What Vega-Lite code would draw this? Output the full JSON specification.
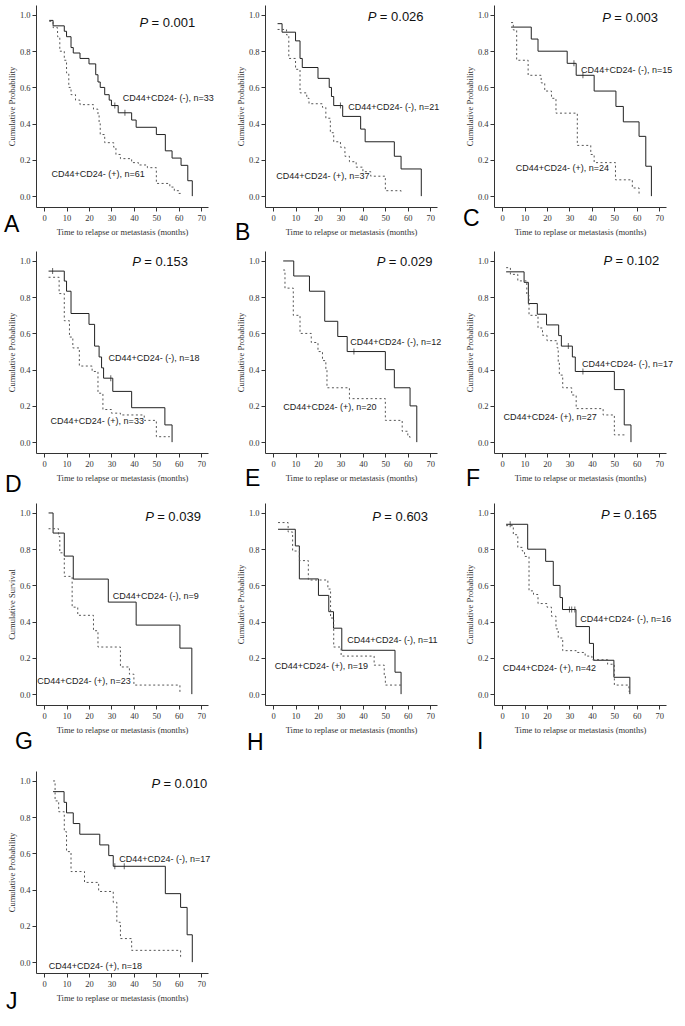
{
"$schema":"https://vega.github.io/schema/vega-lite/v6.json",
"background":"white",
"padding":{"left":4,"top":5,"right":5,"bottom":5},
"config":{"view":{"stroke":null},
"axis":{"grid":false,"domainColor":"#333","tickColor":"#333","tickSize":4,"labelFont":"Liberation Serif","labelFontSize":8.5,"labelColor":"#333","titleFont":"Liberation Serif","titleFontSize":8.5,"titleFontWeight":"normal","titleColor":"#333","labelPadding":2},
"axisX":{"titlePadding":6,"tickCount":8,"labelOverlap":false},"axisY":{"titlePadding":3,"tickCount":6},
"text":{"font":"Liberation Sans"}},
"datasets":{
"km":[
{"p":"A","g":"neg","t":2.3,"s":0.97},{"p":"A","g":"neg","t":4,"s":0.94},{"p":"A","g":"neg","t":9,"s":0.91},{"p":"A","g":"neg","t":10,"s":0.88},{"p":"A","g":"neg","t":12,"s":0.82},{"p":"A","g":"neg","t":13,"s":0.79},{"p":"A","g":"neg","t":16,"s":0.76},{"p":"A","g":"neg","t":20,"s":0.73},{"p":"A","g":"neg","t":23,"s":0.67},{"p":"A","g":"neg","t":24,"s":0.63},{"p":"A","g":"neg","t":25,"s":0.60},{"p":"A","g":"neg","t":27,"s":0.56},{"p":"A","g":"neg","t":29,"s":0.53},{"p":"A","g":"neg","t":30,"s":0.50},{"p":"A","g":"neg","t":33,"s":0.46},{"p":"A","g":"neg","t":39,"s":0.42},{"p":"A","g":"neg","t":41,"s":0.38},{"p":"A","g":"neg","t":50,"s":0.34},{"p":"A","g":"neg","t":54,"s":0.25},{"p":"A","g":"neg","t":57,"s":0.21},{"p":"A","g":"neg","t":61,"s":0.17},{"p":"A","g":"neg","t":64,"s":0.085},{"p":"A","g":"neg","t":66,"s":0},
{"p":"A","g":"pos","t":2.3,"s":0.965},{"p":"A","g":"pos","t":4,"s":0.93},{"p":"A","g":"pos","t":6,"s":0.88},{"p":"A","g":"pos","t":7,"s":0.80},{"p":"A","g":"pos","t":9,"s":0.75},{"p":"A","g":"pos","t":10,"s":0.68},{"p":"A","g":"pos","t":11,"s":0.60},{"p":"A","g":"pos","t":12,"s":0.56},{"p":"A","g":"pos","t":14,"s":0.53},{"p":"A","g":"pos","t":16,"s":0.505},{"p":"A","g":"pos","t":22,"s":0.48},{"p":"A","g":"pos","t":24,"s":0.45},{"p":"A","g":"pos","t":24.5,"s":0.40},{"p":"A","g":"pos","t":25,"s":0.34},{"p":"A","g":"pos","t":27,"s":0.295},{"p":"A","g":"pos","t":31,"s":0.27},{"p":"A","g":"pos","t":32,"s":0.23},{"p":"A","g":"pos","t":34,"s":0.207},{"p":"A","g":"pos","t":39,"s":0.185},{"p":"A","g":"pos","t":42,"s":0.172},{"p":"A","g":"pos","t":46,"s":0.157},{"p":"A","g":"pos","t":50,"s":0.07},{"p":"A","g":"pos","t":56,"s":0.05},{"p":"A","g":"pos","t":58,"s":0.03},{"p":"A","g":"pos","t":60,"s":0.015},{"p":"A","g":"pos","t":61,"s":0.015},
{"p":"B","g":"neg","t":2,"s":0.952},{"p":"B","g":"neg","t":4,"s":0.905},{"p":"B","g":"neg","t":10,"s":0.857},{"p":"B","g":"neg","t":12,"s":0.76},{"p":"B","g":"neg","t":13,"s":0.71},{"p":"B","g":"neg","t":20,"s":0.65},{"p":"B","g":"neg","t":25,"s":0.60},{"p":"B","g":"neg","t":26,"s":0.55},{"p":"B","g":"neg","t":27,"s":0.50},{"p":"B","g":"neg","t":31,"s":0.44},{"p":"B","g":"neg","t":39,"s":0.37},{"p":"B","g":"neg","t":41,"s":0.30},{"p":"B","g":"neg","t":54,"s":0.22},{"p":"B","g":"neg","t":57,"s":0.15},{"p":"B","g":"neg","t":66,"s":0},
{"p":"B","g":"pos","t":2,"s":0.92},{"p":"B","g":"pos","t":6,"s":0.89},{"p":"B","g":"pos","t":7,"s":0.76},{"p":"B","g":"pos","t":10,"s":0.70},{"p":"B","g":"pos","t":12,"s":0.57},{"p":"B","g":"pos","t":15,"s":0.54},{"p":"B","g":"pos","t":16,"s":0.51},{"p":"B","g":"pos","t":22,"s":0.49},{"p":"B","g":"pos","t":23.5,"s":0.43},{"p":"B","g":"pos","t":25.5,"s":0.35},{"p":"B","g":"pos","t":27,"s":0.30},{"p":"B","g":"pos","t":30,"s":0.27},{"p":"B","g":"pos","t":32,"s":0.22},{"p":"B","g":"pos","t":34,"s":0.19},{"p":"B","g":"pos","t":37,"s":0.16},{"p":"B","g":"pos","t":40,"s":0.135},{"p":"B","g":"pos","t":43.5,"s":0.11},{"p":"B","g":"pos","t":50,"s":0.03},{"p":"B","g":"pos","t":57,"s":0.015},
{"p":"C","g":"neg","t":4,"s":0.933},{"p":"C","g":"neg","t":13,"s":0.867},{"p":"C","g":"neg","t":16,"s":0.80},{"p":"C","g":"neg","t":29,"s":0.733},{"p":"C","g":"neg","t":33,"s":0.667},{"p":"C","g":"neg","t":41,"s":0.58},{"p":"C","g":"neg","t":50.7,"s":0.495},{"p":"C","g":"neg","t":54,"s":0.41},{"p":"C","g":"neg","t":61,"s":0.33},{"p":"C","g":"neg","t":64,"s":0.165},{"p":"C","g":"neg","t":66.5,"s":0},
{"p":"C","g":"pos","t":4,"s":0.958},{"p":"C","g":"pos","t":5,"s":0.917},{"p":"C","g":"pos","t":6.5,"s":0.75},{"p":"C","g":"pos","t":11.6,"s":0.667},{"p":"C","g":"pos","t":17.4,"s":0.625},{"p":"C","g":"pos","t":19,"s":0.58},{"p":"C","g":"pos","t":22,"s":0.54},{"p":"C","g":"pos","t":24,"s":0.458},{"p":"C","g":"pos","t":33.5,"s":0.28},{"p":"C","g":"pos","t":39.5,"s":0.23},{"p":"C","g":"pos","t":41,"s":0.185},{"p":"C","g":"pos","t":50.5,"s":0.09},{"p":"C","g":"pos","t":58,"s":0.045},{"p":"C","g":"pos","t":61,"s":0},
{"p":"D","g":"neg","t":2,"s":0.944},{"p":"D","g":"neg","t":9,"s":0.889},{"p":"D","g":"neg","t":10,"s":0.833},{"p":"D","g":"neg","t":12,"s":0.71},{"p":"D","g":"neg","t":20,"s":0.65},{"p":"D","g":"neg","t":22.5,"s":0.53},{"p":"D","g":"neg","t":24.5,"s":0.47},{"p":"D","g":"neg","t":25.6,"s":0.41},{"p":"D","g":"neg","t":26.5,"s":0.353},{"p":"D","g":"neg","t":30.6,"s":0.28},{"p":"D","g":"neg","t":39,"s":0.19},{"p":"D","g":"neg","t":53.8,"s":0.095},{"p":"D","g":"neg","t":57,"s":0},
{"p":"D","g":"pos","t":2,"s":0.91},{"p":"D","g":"pos","t":6.7,"s":0.82},{"p":"D","g":"pos","t":9,"s":0.67},{"p":"D","g":"pos","t":11.3,"s":0.58},{"p":"D","g":"pos","t":12.8,"s":0.52},{"p":"D","g":"pos","t":15.7,"s":0.42},{"p":"D","g":"pos","t":21.4,"s":0.39},{"p":"D","g":"pos","t":24,"s":0.27},{"p":"D","g":"pos","t":26.2,"s":0.18},{"p":"D","g":"pos","t":30,"s":0.16},{"p":"D","g":"pos","t":34,"s":0.15},{"p":"D","g":"pos","t":44.6,"s":0.12},{"p":"D","g":"pos","t":50,"s":0.03},{"p":"D","g":"pos","t":56,"s":0.03},
{"p":"E","g":"neg","t":4.5,"s":1},{"p":"E","g":"neg","t":9.2,"s":0.917},{"p":"E","g":"neg","t":16.2,"s":0.833},{"p":"E","g":"neg","t":23,"s":0.667},{"p":"E","g":"neg","t":28.8,"s":0.583},{"p":"E","g":"neg","t":33,"s":0.5},{"p":"E","g":"neg","t":50,"s":0.4},{"p":"E","g":"neg","t":54,"s":0.3},{"p":"E","g":"neg","t":61,"s":0.2},{"p":"E","g":"neg","t":64,"s":0},
{"p":"E","g":"pos","t":4.5,"s":0.95},{"p":"E","g":"pos","t":5.3,"s":0.85},{"p":"E","g":"pos","t":9,"s":0.7},{"p":"E","g":"pos","t":12,"s":0.6},{"p":"E","g":"pos","t":17,"s":0.55},{"p":"E","g":"pos","t":20,"s":0.5},{"p":"E","g":"pos","t":22,"s":0.45},{"p":"E","g":"pos","t":23.5,"s":0.4},{"p":"E","g":"pos","t":24,"s":0.3},{"p":"E","g":"pos","t":34,"s":0.24},{"p":"E","g":"pos","t":50,"s":0.12},{"p":"E","g":"pos","t":57.5,"s":0.06},{"p":"E","g":"pos","t":60,"s":0.03},{"p":"E","g":"pos","t":61,"s":0.02},
{"p":"F","g":"neg","t":1.8,"s":0.94},{"p":"F","g":"neg","t":9.8,"s":0.882},{"p":"F","g":"neg","t":11.7,"s":0.765},{"p":"F","g":"neg","t":15.7,"s":0.706},{"p":"F","g":"neg","t":19.8,"s":0.647},{"p":"F","g":"neg","t":25.2,"s":0.588},{"p":"F","g":"neg","t":26.4,"s":0.53},{"p":"F","g":"neg","t":31.3,"s":0.47},{"p":"F","g":"neg","t":32.6,"s":0.39},{"p":"F","g":"neg","t":50,"s":0.29},{"p":"F","g":"neg","t":54.4,"s":0.095},{"p":"F","g":"neg","t":57.4,"s":0},
{"p":"F","g":"pos","t":1.8,"s":0.963},{"p":"F","g":"pos","t":3.7,"s":0.926},{"p":"F","g":"pos","t":7,"s":0.89},{"p":"F","g":"pos","t":11,"s":0.81},{"p":"F","g":"pos","t":12,"s":0.70},{"p":"F","g":"pos","t":16,"s":0.63},{"p":"F","g":"pos","t":18,"s":0.59},{"p":"F","g":"pos","t":20,"s":0.56},{"p":"F","g":"pos","t":24.5,"s":0.52},{"p":"F","g":"pos","t":25,"s":0.44},{"p":"F","g":"pos","t":25.5,"s":0.37},{"p":"F","g":"pos","t":27,"s":0.30},{"p":"F","g":"pos","t":31,"s":0.26},{"p":"F","g":"pos","t":33,"s":0.185},{"p":"F","g":"pos","t":45,"s":0.15},{"p":"F","g":"pos","t":50,"s":0.04},{"p":"F","g":"pos","t":55,"s":0.04},
{"p":"G","g":"neg","t":2,"s":1},{"p":"G","g":"neg","t":4,"s":0.889},{"p":"G","g":"neg","t":9,"s":0.762},{"p":"G","g":"neg","t":13,"s":0.635},{"p":"G","g":"neg","t":28.6,"s":0.508},{"p":"G","g":"neg","t":41,"s":0.381},{"p":"G","g":"neg","t":60.5,"s":0.254},{"p":"G","g":"neg","t":65.8,"s":0},
{"p":"G","g":"pos","t":2,"s":0.913},{"p":"G","g":"pos","t":6.4,"s":0.87},{"p":"G","g":"pos","t":7,"s":0.78},{"p":"G","g":"pos","t":9,"s":0.65},{"p":"G","g":"pos","t":12.5,"s":0.48},{"p":"G","g":"pos","t":15,"s":0.435},{"p":"G","g":"pos","t":22,"s":0.35},{"p":"G","g":"pos","t":24,"s":0.26},{"p":"G","g":"pos","t":34,"s":0.15},{"p":"G","g":"pos","t":38,"s":0.11},{"p":"G","g":"pos","t":40,"s":0.05},{"p":"G","g":"pos","t":60.5,"s":0},
{"p":"H","g":"neg","t":2.2,"s":0.91},{"p":"H","g":"neg","t":9.9,"s":0.818},{"p":"H","g":"neg","t":11.7,"s":0.636},{"p":"H","g":"neg","t":20.2,"s":0.545},{"p":"H","g":"neg","t":24.8,"s":0.455},{"p":"H","g":"neg","t":26.9,"s":0.364},{"p":"H","g":"neg","t":30.6,"s":0.242},{"p":"H","g":"neg","t":54.3,"s":0.121},{"p":"H","g":"neg","t":57,"s":0},
{"p":"H","g":"pos","t":2.2,"s":0.947},{"p":"H","g":"pos","t":6.7,"s":0.895},{"p":"H","g":"pos","t":8.7,"s":0.79},{"p":"H","g":"pos","t":11.7,"s":0.737},{"p":"H","g":"pos","t":15.7,"s":0.63},{"p":"H","g":"pos","t":24.4,"s":0.58},{"p":"H","g":"pos","t":25.6,"s":0.42},{"p":"H","g":"pos","t":27,"s":0.26},{"p":"H","g":"pos","t":30.3,"s":0.21},{"p":"H","g":"pos","t":45,"s":0.16},{"p":"H","g":"pos","t":49.5,"s":0.105},{"p":"H","g":"pos","t":50,"s":0.05},{"p":"H","g":"pos","t":57,"s":0.05},
{"p":"I","g":"neg","t":1.8,"s":0.9375},{"p":"I","g":"neg","t":11.4,"s":0.8},{"p":"I","g":"neg","t":19.4,"s":0.733},{"p":"I","g":"neg","t":22.8,"s":0.6},{"p":"I","g":"neg","t":25.8,"s":0.533},{"p":"I","g":"neg","t":26.9,"s":0.467},{"p":"I","g":"neg","t":32.9,"s":0.373},{"p":"I","g":"neg","t":38.9,"s":0.28},{"p":"I","g":"neg","t":40.7,"s":0.187},{"p":"I","g":"neg","t":49.8,"s":0.093},{"p":"I","g":"neg","t":56.9,"s":0},
{"p":"I","g":"pos","t":1.8,"s":0.93},{"p":"I","g":"pos","t":5,"s":0.88},{"p":"I","g":"pos","t":7,"s":0.81},{"p":"I","g":"pos","t":9,"s":0.79},{"p":"I","g":"pos","t":10,"s":0.76},{"p":"I","g":"pos","t":12,"s":0.57},{"p":"I","g":"pos","t":14,"s":0.55},{"p":"I","g":"pos","t":16,"s":0.5},{"p":"I","g":"pos","t":20,"s":0.48},{"p":"I","g":"pos","t":22,"s":0.43},{"p":"I","g":"pos","t":24,"s":0.36},{"p":"I","g":"pos","t":25,"s":0.31},{"p":"I","g":"pos","t":27,"s":0.24},{"p":"I","g":"pos","t":33,"s":0.23},{"p":"I","g":"pos","t":37,"s":0.21},{"p":"I","g":"pos","t":40,"s":0.19},{"p":"I","g":"pos","t":47,"s":0.165},{"p":"I","g":"pos","t":50,"s":0.05},{"p":"I","g":"pos","t":56.5,"s":0.015},{"p":"I","g":"pos","t":57,"s":0.015},
{"p":"J","g":"neg","t":4,"s":0.941},{"p":"J","g":"neg","t":8.9,"s":0.882},{"p":"J","g":"neg","t":10,"s":0.824},{"p":"J","g":"neg","t":13,"s":0.765},{"p":"J","g":"neg","t":15.9,"s":0.706},{"p":"J","g":"neg","t":24.8,"s":0.647},{"p":"J","g":"neg","t":28.8,"s":0.588},{"p":"J","g":"neg","t":30.8,"s":0.529},{"p":"J","g":"neg","t":54,"s":0.378},{"p":"J","g":"neg","t":60.8,"s":0.302},{"p":"J","g":"neg","t":63.7,"s":0.151},{"p":"J","g":"neg","t":66,"s":0},
{"p":"J","g":"pos","t":4,"s":1},{"p":"J","g":"pos","t":4.9,"s":0.89},{"p":"J","g":"pos","t":6.5,"s":0.83},{"p":"J","g":"pos","t":9,"s":0.72},{"p":"J","g":"pos","t":10,"s":0.61},{"p":"J","g":"pos","t":12,"s":0.5},{"p":"J","g":"pos","t":18,"s":0.44},{"p":"J","g":"pos","t":24.3,"s":0.39},{"p":"J","g":"pos","t":30.8,"s":0.33},{"p":"J","g":"pos","t":32.4,"s":0.22},{"p":"J","g":"pos","t":34,"s":0.13},{"p":"J","g":"pos","t":39,"s":0.065},{"p":"J","g":"pos","t":60.8,"s":0.03},{"p":"J","g":"pos","t":61,"s":0.03}
],
"cens":[
{"p":"A","t":31.5,"s":0.5},{"p":"A","t":36,"s":0.46},{"p":"B","t":30,"s":0.5},{"p":"C","t":32,"s":0.733},{"p":"C","t":36,"s":0.667},{"p":"D","t":3.8,"s":0.944},{"p":"D","t":29.7,"s":0.353},{"p":"E","t":36,"s":0.5},{"p":"F","t":29.5,"s":0.53},{"p":"F","t":36,"s":0.39},{"p":"I","t":3.6,"s":0.9375},{"p":"I","t":30,"s":0.467},{"p":"I","t":31,"s":0.467},{"p":"I","t":32.4,"s":0.467},{"p":"J","t":31.5,"s":0.529},{"p":"J","t":35.7,"s":0.529}
]},
"vconcat":[
{"vconcat":[
{"hconcat":[
{"width":172,"height":202,
"layer":[
{"data":{"name":"km"},"transform":[{"filter":"datum.p==='A' && datum.g==='neg'"}],"mark":{"type":"line","interpolate":"step-after","stroke":"#222","strokeWidth":1},"encoding":{"x":{"field":"t","type":"quantitative","scale":{"domain":[-3.6,73],"nice":false,"zero":false},"axis":{"values":[0,10,20,30,40,50,60,70],"title":"Time to relapse or metastasis (months)"}},"y":{"field":"s","type":"quantitative","scale":{"domain":[-0.06,1.055],"nice":false,"zero":false},"axis":{"values":[0,0.2,0.4,0.6,0.8,1],"format":".1f","title":"Cumulative Probability"}}}},
{"data":{"name":"km"},"transform":[{"filter":"datum.p==='A' && datum.g==='pos'"}],"mark":{"type":"line","interpolate":"step-after","stroke":"#555","strokeWidth":1,"strokeDash":[2,2.5]},"encoding":{"x":{"field":"t","type":"quantitative","scale":{"domain":[-3.6,73],"nice":false,"zero":false}},"y":{"field":"s","type":"quantitative","scale":{"domain":[-0.06,1.055],"nice":false,"zero":false}}}},
{"data":{"name":"cens"},"transform":[{"filter":"datum.p==='A'"}],"mark":{"type":"tick","orient":"vertical","size":6,"thickness":1,"color":"#222"},"encoding":{"x":{"field":"t","type":"quantitative","scale":{"domain":[-3.6,73],"nice":false,"zero":false}},"y":{"field":"s","type":"quantitative","scale":{"domain":[-0.06,1.055],"nice":false,"zero":false}}}},
{"data":{"values":[{}]},"mark":{"type":"text","text":"P","fontStyle":"italic","fontSize":13,"align":"left","baseline":"middle","color":"#111"},"encoding":{"x":{"datum":42.5,"type":"quantitative"},"y":{"datum":0.954,"type":"quantitative"}}},
{"data":{"values":[{}]},"mark":{"type":"text","text":"= 0.001","fontSize":13,"align":"left","baseline":"middle","dx":12,"color":"#111"},"encoding":{"x":{"datum":42.5,"type":"quantitative"},"y":{"datum":0.954,"type":"quantitative"}}},
{"data":{"values":[{}]},"mark":{"type":"text","text":"CD44+CD24- (-), n=33","fontSize":9,"align":"left","baseline":"middle","color":"#222"},"encoding":{"x":{"datum":35,"type":"quantitative"},"y":{"datum":0.542,"type":"quantitative"}}},
{"data":{"values":[{}]},"mark":{"type":"text","text":"CD44+CD24- (+), n=61","fontSize":9,"align":"left","baseline":"middle","color":"#222"},"encoding":{"x":{"datum":3.3,"type":"quantitative"},"y":{"datum":0.12,"type":"quantitative"}}},
{"data":{"values":[{}]},"mark":{"type":"text","text":"A","fontSize":23,"align":"left","baseline":"alphabetic","color":"#000"},"encoding":{"x":{"datum":-17.85,"type":"quantitative"},"y":{"datum":-0.198,"type":"quantitative"}}}
]},
{"width":172,"height":202,
"layer":[
{"data":{"name":"km"},"transform":[{"filter":"datum.p==='B' && datum.g==='neg'"}],"mark":{"type":"line","interpolate":"step-after","stroke":"#222","strokeWidth":1},"encoding":{"x":{"field":"t","type":"quantitative","scale":{"domain":[-3.6,73],"nice":false,"zero":false},"axis":{"values":[0,10,20,30,40,50,60,70],"title":"Time to relapse or metastasis (months)"}},"y":{"field":"s","type":"quantitative","scale":{"domain":[-0.06,1.055],"nice":false,"zero":false},"axis":{"values":[0,0.2,0.4,0.6,0.8,1],"format":".1f","title":"Cumulative Probability"}}}},
{"data":{"name":"km"},"transform":[{"filter":"datum.p==='B' && datum.g==='pos'"}],"mark":{"type":"line","interpolate":"step-after","stroke":"#555","strokeWidth":1,"strokeDash":[2,2.5]},"encoding":{"x":{"field":"t","type":"quantitative","scale":{"domain":[-3.6,73],"nice":false,"zero":false}},"y":{"field":"s","type":"quantitative","scale":{"domain":[-0.06,1.055],"nice":false,"zero":false}}}},
{"data":{"name":"cens"},"transform":[{"filter":"datum.p==='B'"}],"mark":{"type":"tick","orient":"vertical","size":6,"thickness":1,"color":"#222"},"encoding":{"x":{"field":"t","type":"quantitative","scale":{"domain":[-3.6,73],"nice":false,"zero":false}},"y":{"field":"s","type":"quantitative","scale":{"domain":[-0.06,1.055],"nice":false,"zero":false}}}},
{"data":{"values":[{}]},"mark":{"type":"text","text":"P","fontStyle":"italic","fontSize":13,"align":"left","baseline":"middle","color":"#111"},"encoding":{"x":{"datum":42.2,"type":"quantitative"},"y":{"datum":0.987,"type":"quantitative"}}},
{"data":{"values":[{}]},"mark":{"type":"text","text":"= 0.026","fontSize":13,"align":"left","baseline":"middle","dx":12,"color":"#111"},"encoding":{"x":{"datum":42.2,"type":"quantitative"},"y":{"datum":0.987,"type":"quantitative"}}},
{"data":{"values":[{}]},"mark":{"type":"text","text":"CD44+CD24- (-), n=21","fontSize":9,"align":"left","baseline":"middle","color":"#222"},"encoding":{"x":{"datum":33.5,"type":"quantitative"},"y":{"datum":0.493,"type":"quantitative"}}},
{"data":{"values":[{}]},"mark":{"type":"text","text":"CD44+CD24- (+), n=37","fontSize":9,"align":"left","baseline":"middle","color":"#222"},"encoding":{"x":{"datum":1.4,"type":"quantitative"},"y":{"datum":0.109,"type":"quantitative"}}},
{"data":{"values":[{}]},"mark":{"type":"text","text":"B","fontSize":23,"align":"left","baseline":"alphabetic","color":"#000"},"encoding":{"x":{"datum":-16.96,"type":"quantitative"},"y":{"datum":-0.242,"type":"quantitative"}}}
]},
{"width":172,"height":202,
"layer":[
{"data":{"name":"km"},"transform":[{"filter":"datum.p==='C' && datum.g==='neg'"}],"mark":{"type":"line","interpolate":"step-after","stroke":"#222","strokeWidth":1},"encoding":{"x":{"field":"t","type":"quantitative","scale":{"domain":[-3.6,73],"nice":false,"zero":false},"axis":{"values":[0,10,20,30,40,50,60,70],"title":"Time to replase or metastasis (months)"}},"y":{"field":"s","type":"quantitative","scale":{"domain":[-0.06,1.055],"nice":false,"zero":false},"axis":{"values":[0,0.2,0.4,0.6,0.8,1],"format":".1f","title":"Cumulative Probability"}}}},
{"data":{"name":"km"},"transform":[{"filter":"datum.p==='C' && datum.g==='pos'"}],"mark":{"type":"line","interpolate":"step-after","stroke":"#555","strokeWidth":1,"strokeDash":[2,2.5]},"encoding":{"x":{"field":"t","type":"quantitative","scale":{"domain":[-3.6,73],"nice":false,"zero":false}},"y":{"field":"s","type":"quantitative","scale":{"domain":[-0.06,1.055],"nice":false,"zero":false}}}},
{"data":{"name":"cens"},"transform":[{"filter":"datum.p==='C'"}],"mark":{"type":"tick","orient":"vertical","size":6,"thickness":1,"color":"#222"},"encoding":{"x":{"field":"t","type":"quantitative","scale":{"domain":[-3.6,73],"nice":false,"zero":false}},"y":{"field":"s","type":"quantitative","scale":{"domain":[-0.06,1.055],"nice":false,"zero":false}}}},
{"data":{"values":[{}]},"mark":{"type":"text","text":"P","fontStyle":"italic","fontSize":13,"align":"left","baseline":"middle","color":"#111"},"encoding":{"x":{"datum":44.6,"type":"quantitative"},"y":{"datum":0.985,"type":"quantitative"}}},
{"data":{"values":[{}]},"mark":{"type":"text","text":"= 0.003","fontSize":13,"align":"left","baseline":"middle","dx":12,"color":"#111"},"encoding":{"x":{"datum":44.6,"type":"quantitative"},"y":{"datum":0.985,"type":"quantitative"}}},
{"data":{"values":[{}]},"mark":{"type":"text","text":"CD44+CD24- (-), n=15","fontSize":9,"align":"left","baseline":"middle","color":"#222"},"encoding":{"x":{"datum":35.2,"type":"quantitative"},"y":{"datum":0.698,"type":"quantitative"}}},
{"data":{"values":[{}]},"mark":{"type":"text","text":"CD44+CD24- (+), n=24","fontSize":9,"align":"left","baseline":"middle","color":"#222"},"encoding":{"x":{"datum":6.1,"type":"quantitative"},"y":{"datum":0.153,"type":"quantitative"}}},
{"data":{"values":[{}]},"mark":{"type":"text","text":"C","fontSize":23,"align":"left","baseline":"alphabetic","color":"#000"},"encoding":{"x":{"datum":-17.4,"type":"quantitative"},"y":{"datum":-0.165,"type":"quantitative"}}}
]}
],"spacing":57,"bounds":"flush"},
{"hconcat":[
{"width":172,"height":202,
"layer":[
{"data":{"name":"km"},"transform":[{"filter":"datum.p==='D' && datum.g==='neg'"}],"mark":{"type":"line","interpolate":"step-after","stroke":"#222","strokeWidth":1},"encoding":{"x":{"field":"t","type":"quantitative","scale":{"domain":[-3.6,73],"nice":false,"zero":false},"axis":{"values":[0,10,20,30,40,50,60,70],"title":"Time to relapse or metastasis (months)"}},"y":{"field":"s","type":"quantitative","scale":{"domain":[-0.06,1.055],"nice":false,"zero":false},"axis":{"values":[0,0.2,0.4,0.6,0.8,1],"format":".1f","title":"Cumulative Probability"}}}},
{"data":{"name":"km"},"transform":[{"filter":"datum.p==='D' && datum.g==='pos'"}],"mark":{"type":"line","interpolate":"step-after","stroke":"#555","strokeWidth":1,"strokeDash":[2,2.5]},"encoding":{"x":{"field":"t","type":"quantitative","scale":{"domain":[-3.6,73],"nice":false,"zero":false}},"y":{"field":"s","type":"quantitative","scale":{"domain":[-0.06,1.055],"nice":false,"zero":false}}}},
{"data":{"name":"cens"},"transform":[{"filter":"datum.p==='D'"}],"mark":{"type":"tick","orient":"vertical","size":6,"thickness":1,"color":"#222"},"encoding":{"x":{"field":"t","type":"quantitative","scale":{"domain":[-3.6,73],"nice":false,"zero":false}},"y":{"field":"s","type":"quantitative","scale":{"domain":[-0.06,1.055],"nice":false,"zero":false}}}},
{"data":{"values":[{}]},"mark":{"type":"text","text":"P","fontStyle":"italic","fontSize":13,"align":"left","baseline":"middle","color":"#111"},"encoding":{"x":{"datum":39.3,"type":"quantitative"},"y":{"datum":0.996,"type":"quantitative"}}},
{"data":{"values":[{}]},"mark":{"type":"text","text":"= 0.153","fontSize":13,"align":"left","baseline":"middle","dx":12,"color":"#111"},"encoding":{"x":{"datum":39.3,"type":"quantitative"},"y":{"datum":0.996,"type":"quantitative"}}},
{"data":{"values":[{}]},"mark":{"type":"text","text":"CD44+CD24- (-), n=18","fontSize":9,"align":"left","baseline":"middle","color":"#222"},"encoding":{"x":{"datum":28.7,"type":"quantitative"},"y":{"datum":0.465,"type":"quantitative"}}},
{"data":{"values":[{}]},"mark":{"type":"text","text":"CD44+CD24- (+), n=33","fontSize":9,"align":"left","baseline":"middle","color":"#222"},"encoding":{"x":{"datum":2.9,"type":"quantitative"},"y":{"datum":0.117,"type":"quantitative"}}},
{"data":{"values":[{}]},"mark":{"type":"text","text":"D","fontSize":23,"align":"left","baseline":"alphabetic","color":"#000"},"encoding":{"x":{"datum":-17.4,"type":"quantitative"},"y":{"datum":-0.275,"type":"quantitative"}}}
]},
{"width":172,"height":202,
"layer":[
{"data":{"name":"km"},"transform":[{"filter":"datum.p==='E' && datum.g==='neg'"}],"mark":{"type":"line","interpolate":"step-after","stroke":"#222","strokeWidth":1},"encoding":{"x":{"field":"t","type":"quantitative","scale":{"domain":[-3.6,73],"nice":false,"zero":false},"axis":{"values":[0,10,20,30,40,50,60,70],"title":"Time to replase or metastasis (months)"}},"y":{"field":"s","type":"quantitative","scale":{"domain":[-0.06,1.055],"nice":false,"zero":false},"axis":{"values":[0,0.2,0.4,0.6,0.8,1],"format":".1f","title":"Cumulative Probability"}}}},
{"data":{"name":"km"},"transform":[{"filter":"datum.p==='E' && datum.g==='pos'"}],"mark":{"type":"line","interpolate":"step-after","stroke":"#555","strokeWidth":1,"strokeDash":[2,2.5]},"encoding":{"x":{"field":"t","type":"quantitative","scale":{"domain":[-3.6,73],"nice":false,"zero":false}},"y":{"field":"s","type":"quantitative","scale":{"domain":[-0.06,1.055],"nice":false,"zero":false}}}},
{"data":{"name":"cens"},"transform":[{"filter":"datum.p==='E'"}],"mark":{"type":"tick","orient":"vertical","size":6,"thickness":1,"color":"#222"},"encoding":{"x":{"field":"t","type":"quantitative","scale":{"domain":[-3.6,73],"nice":false,"zero":false}},"y":{"field":"s","type":"quantitative","scale":{"domain":[-0.06,1.055],"nice":false,"zero":false}}}},
{"data":{"values":[{}]},"mark":{"type":"text","text":"P","fontStyle":"italic","fontSize":13,"align":"left","baseline":"middle","color":"#111"},"encoding":{"x":{"datum":46.2,"type":"quantitative"},"y":{"datum":0.995,"type":"quantitative"}}},
{"data":{"values":[{}]},"mark":{"type":"text","text":"= 0.029","fontSize":13,"align":"left","baseline":"middle","dx":12,"color":"#111"},"encoding":{"x":{"datum":46.2,"type":"quantitative"},"y":{"datum":0.995,"type":"quantitative"}}},
{"data":{"values":[{}]},"mark":{"type":"text","text":"CD44+CD24- (-), n=12","fontSize":9,"align":"left","baseline":"middle","color":"#222"},"encoding":{"x":{"datum":34.4,"type":"quantitative"},"y":{"datum":0.55,"type":"quantitative"}}},
{"data":{"values":[{}]},"mark":{"type":"text","text":"CD44+CD24- (+), n=20","fontSize":9,"align":"left","baseline":"middle","color":"#222"},"encoding":{"x":{"datum":4.5,"type":"quantitative"},"y":{"datum":0.193,"type":"quantitative"}}},
{"data":{"values":[{}]},"mark":{"type":"text","text":"E","fontSize":23,"align":"left","baseline":"alphabetic","color":"#000"},"encoding":{"x":{"datum":-12.5,"type":"quantitative"},"y":{"datum":-0.242,"type":"quantitative"}}}
]},
{"width":172,"height":202,
"layer":[
{"data":{"name":"km"},"transform":[{"filter":"datum.p==='F' && datum.g==='neg'"}],"mark":{"type":"line","interpolate":"step-after","stroke":"#222","strokeWidth":1},"encoding":{"x":{"field":"t","type":"quantitative","scale":{"domain":[-3.6,73],"nice":false,"zero":false},"axis":{"values":[0,10,20,30,40,50,60,70],"title":"Time to relapse or metastasis (months)"}},"y":{"field":"s","type":"quantitative","scale":{"domain":[-0.06,1.055],"nice":false,"zero":false},"axis":{"values":[0,0.2,0.4,0.6,0.8,1],"format":".1f","title":"Cumulative Probability"}}}},
{"data":{"name":"km"},"transform":[{"filter":"datum.p==='F' && datum.g==='pos'"}],"mark":{"type":"line","interpolate":"step-after","stroke":"#555","strokeWidth":1,"strokeDash":[2,2.5]},"encoding":{"x":{"field":"t","type":"quantitative","scale":{"domain":[-3.6,73],"nice":false,"zero":false}},"y":{"field":"s","type":"quantitative","scale":{"domain":[-0.06,1.055],"nice":false,"zero":false}}}},
{"data":{"name":"cens"},"transform":[{"filter":"datum.p==='F'"}],"mark":{"type":"tick","orient":"vertical","size":6,"thickness":1,"color":"#222"},"encoding":{"x":{"field":"t","type":"quantitative","scale":{"domain":[-3.6,73],"nice":false,"zero":false}},"y":{"field":"s","type":"quantitative","scale":{"domain":[-0.06,1.055],"nice":false,"zero":false}}}},
{"data":{"values":[{}]},"mark":{"type":"text","text":"P","fontStyle":"italic","fontSize":13,"align":"left","baseline":"middle","color":"#111"},"encoding":{"x":{"datum":45.2,"type":"quantitative"},"y":{"datum":0.998,"type":"quantitative"}}},
{"data":{"values":[{}]},"mark":{"type":"text","text":"= 0.102","fontSize":13,"align":"left","baseline":"middle","dx":12,"color":"#111"},"encoding":{"x":{"datum":45.2,"type":"quantitative"},"y":{"datum":0.998,"type":"quantitative"}}},
{"data":{"values":[{}]},"mark":{"type":"text","text":"CD44+CD24- (-), n=17","fontSize":9,"align":"left","baseline":"middle","color":"#222"},"encoding":{"x":{"datum":35.6,"type":"quantitative"},"y":{"datum":0.432,"type":"quantitative"}}},
{"data":{"values":[{}]},"mark":{"type":"text","text":"CD44+CD24- (+), n=27","fontSize":9,"align":"left","baseline":"middle","color":"#222"},"encoding":{"x":{"datum":0.6,"type":"quantitative"},"y":{"datum":0.136,"type":"quantitative"}}},
{"data":{"values":[{}]},"mark":{"type":"text","text":"F","fontSize":23,"align":"left","baseline":"alphabetic","color":"#000"},"encoding":{"x":{"datum":-16.1,"type":"quantitative"},"y":{"datum":-0.242,"type":"quantitative"}}}
]}
],"spacing":57,"bounds":"flush"},
{"hconcat":[
{"width":172,"height":202,
"layer":[
{"data":{"name":"km"},"transform":[{"filter":"datum.p==='G' && datum.g==='neg'"}],"mark":{"type":"line","interpolate":"step-after","stroke":"#222","strokeWidth":1},"encoding":{"x":{"field":"t","type":"quantitative","scale":{"domain":[-3.6,73],"nice":false,"zero":false},"axis":{"values":[0,10,20,30,40,50,60,70],"title":"Time to relapse or metastasis (months)"}},"y":{"field":"s","type":"quantitative","scale":{"domain":[-0.06,1.055],"nice":false,"zero":false},"axis":{"values":[0,0.2,0.4,0.6,0.8,1],"format":".1f","title":"Cumulative Survival"}}}},
{"data":{"name":"km"},"transform":[{"filter":"datum.p==='G' && datum.g==='pos'"}],"mark":{"type":"line","interpolate":"step-after","stroke":"#555","strokeWidth":1,"strokeDash":[2,2.5]},"encoding":{"x":{"field":"t","type":"quantitative","scale":{"domain":[-3.6,73],"nice":false,"zero":false}},"y":{"field":"s","type":"quantitative","scale":{"domain":[-0.06,1.055],"nice":false,"zero":false}}}},
{"data":{"values":[{}]},"mark":{"type":"text","text":"P","fontStyle":"italic","fontSize":13,"align":"left","baseline":"middle","color":"#111"},"encoding":{"x":{"datum":45,"type":"quantitative"},"y":{"datum":0.978,"type":"quantitative"}}},
{"data":{"values":[{}]},"mark":{"type":"text","text":"= 0.039","fontSize":13,"align":"left","baseline":"middle","dx":12,"color":"#111"},"encoding":{"x":{"datum":45,"type":"quantitative"},"y":{"datum":0.978,"type":"quantitative"}}},
{"data":{"values":[{}]},"mark":{"type":"text","text":"CD44+CD24- (-), n=9","fontSize":9,"align":"left","baseline":"middle","color":"#222"},"encoding":{"x":{"datum":30.6,"type":"quantitative"},"y":{"datum":0.544,"type":"quantitative"}}},
{"data":{"values":[{}]},"mark":{"type":"text","text":"CD44+CD24- (+), n=23","fontSize":9,"align":"left","baseline":"middle","color":"#222"},"encoding":{"x":{"datum":-3,"type":"quantitative"},"y":{"datum":0.073,"type":"quantitative"}}},
{"data":{"values":[{}]},"mark":{"type":"text","text":"G","fontSize":23,"align":"left","baseline":"alphabetic","color":"#000"},"encoding":{"x":{"datum":-12.95,"type":"quantitative"},"y":{"datum":-0.303,"type":"quantitative"}}}
]},
{"width":172,"height":202,
"layer":[
{"data":{"name":"km"},"transform":[{"filter":"datum.p==='H' && datum.g==='neg'"}],"mark":{"type":"line","interpolate":"step-after","stroke":"#222","strokeWidth":1},"encoding":{"x":{"field":"t","type":"quantitative","scale":{"domain":[-3.6,73],"nice":false,"zero":false},"axis":{"values":[0,10,20,30,40,50,60,70],"title":"Time to replase or metastasis (months)"}},"y":{"field":"s","type":"quantitative","scale":{"domain":[-0.06,1.055],"nice":false,"zero":false},"axis":{"values":[0,0.2,0.4,0.6,0.8,1],"format":".1f","title":"Cumulative Probability"}}}},
{"data":{"name":"km"},"transform":[{"filter":"datum.p==='H' && datum.g==='pos'"}],"mark":{"type":"line","interpolate":"step-after","stroke":"#555","strokeWidth":1,"strokeDash":[2,2.5]},"encoding":{"x":{"field":"t","type":"quantitative","scale":{"domain":[-3.6,73],"nice":false,"zero":false}},"y":{"field":"s","type":"quantitative","scale":{"domain":[-0.06,1.055],"nice":false,"zero":false}}}},
{"data":{"values":[{}]},"mark":{"type":"text","text":"P","fontStyle":"italic","fontSize":13,"align":"left","baseline":"middle","color":"#111"},"encoding":{"x":{"datum":44.2,"type":"quantitative"},"y":{"datum":0.976,"type":"quantitative"}}},
{"data":{"values":[{}]},"mark":{"type":"text","text":"= 0.603","fontSize":13,"align":"left","baseline":"middle","dx":12,"color":"#111"},"encoding":{"x":{"datum":44.2,"type":"quantitative"},"y":{"datum":0.976,"type":"quantitative"}}},
{"data":{"values":[{}]},"mark":{"type":"text","text":"CD44+CD24- (-), n=11","fontSize":9,"align":"left","baseline":"middle","color":"#222"},"encoding":{"x":{"datum":33,"type":"quantitative"},"y":{"datum":0.298,"type":"quantitative"}}},
{"data":{"values":[{}]},"mark":{"type":"text","text":"CD44+CD24- (+), n=19","fontSize":9,"align":"left","baseline":"middle","color":"#222"},"encoding":{"x":{"datum":0.75,"type":"quantitative"},"y":{"datum":0.155,"type":"quantitative"}}},
{"data":{"values":[{}]},"mark":{"type":"text","text":"H","fontSize":23,"align":"left","baseline":"alphabetic","color":"#000"},"encoding":{"x":{"datum":-11.6,"type":"quantitative"},"y":{"datum":-0.308,"type":"quantitative"}}}
]},
{"width":172,"height":202,
"layer":[
{"data":{"name":"km"},"transform":[{"filter":"datum.p==='I' && datum.g==='neg'"}],"mark":{"type":"line","interpolate":"step-after","stroke":"#222","strokeWidth":1},"encoding":{"x":{"field":"t","type":"quantitative","scale":{"domain":[-3.6,73],"nice":false,"zero":false},"axis":{"values":[0,10,20,30,40,50,60,70],"title":"Time to relapse or metastasis (months)"}},"y":{"field":"s","type":"quantitative","scale":{"domain":[-0.06,1.055],"nice":false,"zero":false},"axis":{"values":[0,0.2,0.4,0.6,0.8,1],"format":".1f","title":"Cumulative Probability"}}}},
{"data":{"name":"km"},"transform":[{"filter":"datum.p==='I' && datum.g==='pos'"}],"mark":{"type":"line","interpolate":"step-after","stroke":"#555","strokeWidth":1,"strokeDash":[2,2.5]},"encoding":{"x":{"field":"t","type":"quantitative","scale":{"domain":[-3.6,73],"nice":false,"zero":false}},"y":{"field":"s","type":"quantitative","scale":{"domain":[-0.06,1.055],"nice":false,"zero":false}}}},
{"data":{"name":"cens"},"transform":[{"filter":"datum.p==='I'"}],"mark":{"type":"tick","orient":"vertical","size":6,"thickness":1,"color":"#222"},"encoding":{"x":{"field":"t","type":"quantitative","scale":{"domain":[-3.6,73],"nice":false,"zero":false}},"y":{"field":"s","type":"quantitative","scale":{"domain":[-0.06,1.055],"nice":false,"zero":false}}}},
{"data":{"values":[{}]},"mark":{"type":"text","text":"P","fontStyle":"italic","fontSize":13,"align":"left","baseline":"middle","color":"#111"},"encoding":{"x":{"datum":44.1,"type":"quantitative"},"y":{"datum":0.99,"type":"quantitative"}}},
{"data":{"values":[{}]},"mark":{"type":"text","text":"= 0.165","fontSize":13,"align":"left","baseline":"middle","dx":12,"color":"#111"},"encoding":{"x":{"datum":44.1,"type":"quantitative"},"y":{"datum":0.99,"type":"quantitative"}}},
{"data":{"values":[{}]},"mark":{"type":"text","text":"CD44+CD24- (-), n=16","fontSize":9,"align":"left","baseline":"middle","color":"#222"},"encoding":{"x":{"datum":34.8,"type":"quantitative"},"y":{"datum":0.413,"type":"quantitative"}}},
{"data":{"values":[{}]},"mark":{"type":"text","text":"CD44+CD24- (+), n=42","fontSize":9,"align":"left","baseline":"middle","color":"#222"},"encoding":{"x":{"datum":0.3,"type":"quantitative"},"y":{"datum":0.144,"type":"quantitative"}}},
{"data":{"values":[{}]},"mark":{"type":"text","text":"I","fontSize":23,"align":"left","baseline":"alphabetic","color":"#000"},"encoding":{"x":{"datum":-11.2,"type":"quantitative"},"y":{"datum":-0.303,"type":"quantitative"}}}
]}
],"spacing":57,"bounds":"flush"}
],"spacing":6},
{"hconcat":[
{"width":172,"height":202,
"layer":[
{"data":{"name":"km"},"transform":[{"filter":"datum.p==='J' && datum.g==='neg'"}],"mark":{"type":"line","interpolate":"step-after","stroke":"#222","strokeWidth":1},"encoding":{"x":{"field":"t","type":"quantitative","scale":{"domain":[-3.6,73],"nice":false,"zero":false},"axis":{"values":[0,10,20,30,40,50,60,70],"title":"Time to replase or metastasis (months)"}},"y":{"field":"s","type":"quantitative","scale":{"domain":[-0.06,1.055],"nice":false,"zero":false},"axis":{"values":[0,0.2,0.4,0.6,0.8,1],"format":".1f","title":"Cumulative Probability"}}}},
{"data":{"name":"km"},"transform":[{"filter":"datum.p==='J' && datum.g==='pos'"}],"mark":{"type":"line","interpolate":"step-after","stroke":"#555","strokeWidth":1,"strokeDash":[2,2.5]},"encoding":{"x":{"field":"t","type":"quantitative","scale":{"domain":[-3.6,73],"nice":false,"zero":false}},"y":{"field":"s","type":"quantitative","scale":{"domain":[-0.06,1.055],"nice":false,"zero":false}}}},
{"data":{"name":"cens"},"transform":[{"filter":"datum.p==='J'"}],"mark":{"type":"tick","orient":"vertical","size":6,"thickness":1,"color":"#222"},"encoding":{"x":{"field":"t","type":"quantitative","scale":{"domain":[-3.6,73],"nice":false,"zero":false}},"y":{"field":"s","type":"quantitative","scale":{"domain":[-0.06,1.055],"nice":false,"zero":false}}}},
{"data":{"values":[{}]},"mark":{"type":"text","text":"P","fontStyle":"italic","fontSize":13,"align":"left","baseline":"middle","color":"#111"},"encoding":{"x":{"datum":47.8,"type":"quantitative"},"y":{"datum":0.981,"type":"quantitative"}}},
{"data":{"values":[{}]},"mark":{"type":"text","text":"= 0.010","fontSize":13,"align":"left","baseline":"middle","dx":12,"color":"#111"},"encoding":{"x":{"datum":47.8,"type":"quantitative"},"y":{"datum":0.981,"type":"quantitative"}}},
{"data":{"values":[{}]},"mark":{"type":"text","text":"CD44+CD24- (-), n=17","fontSize":9,"align":"left","baseline":"middle","color":"#222"},"encoding":{"x":{"datum":33.5,"type":"quantitative"},"y":{"datum":0.571,"type":"quantitative"}}},
{"data":{"values":[{}]},"mark":{"type":"text","text":"CD44+CD24- (+), n=18","fontSize":9,"align":"left","baseline":"middle","color":"#222"},"encoding":{"x":{"datum":2.1,"type":"quantitative"},"y":{"datum":-0.02,"type":"quantitative"}}},
{"data":{"values":[{}]},"mark":{"type":"text","text":"J","fontSize":23,"align":"left","baseline":"alphabetic","color":"#000"},"encoding":{"x":{"datum":-16.96,"type":"quantitative"},"y":{"datum":-0.259,"type":"quantitative"}}}
]}
],"bounds":"flush"}
],
"spacing":16
}
